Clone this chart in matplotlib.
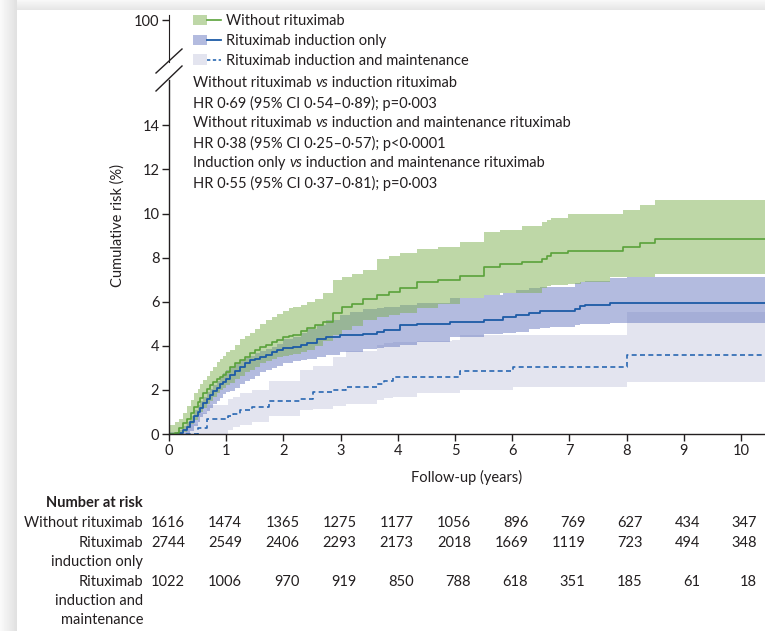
import numpy as np
import matplotlib.pyplot as plt
import matplotlib.transforms as mtransforms
from matplotlib.patches import Patch
from matplotlib.lines import Line2D
from matplotlib.legend_handler import HandlerTuple

plt.rcParams['font.family'] = ['Lato', 'DejaVu Sans']
plt.rcParams['font.size'] = 10.5
INK = '#231f20'

# --- cumulative risk curves (step functions) ---
t_without = [0, 0.1, 0.17, 0.25, 0.32, 0.38, 0.43, 0.5, 0.55, 0.6,
             0.66, 0.72, 0.77, 0.84, 0.9, 0.95, 1.0, 1.07, 1.15, 1.24,
             1.32, 1.42, 1.5, 1.59, 1.7, 1.8, 1.88, 2.0, 2.1, 2.17,
             2.3, 2.41, 2.55, 2.7, 2.87, 3.02, 3.2, 3.4, 3.63, 3.85,
             4.04, 4.33, 4.7, 5.09, 5.5, 5.79, 6.17, 6.52, 6.6, 6.68,
             6.98, 7.2, 7.71, 7.94, 8.23, 8.5, 10.45]
est_without = [0, 0.05, 0.25, 0.48, 0.7, 0.95, 1.24, 1.45, 1.65, 1.85,
               2.05, 2.2, 2.37, 2.5, 2.6, 2.68, 2.83, 3.05, 3.2, 3.36,
               3.5, 3.66, 3.8, 3.96, 4.05, 4.15, 4.26, 4.4, 4.45, 4.5,
               4.65, 4.79, 4.95, 5.1, 5.47, 5.77, 5.9, 6.1, 6.3, 6.45,
               6.61, 6.91, 7.0, 7.18, 7.59, 7.71, 7.82, 7.94, 8.07, 8.19,
               8.31, 8.31, 8.31, 8.46, 8.65, 8.83, 8.83]
hi_without = [0.4, 0.55, 0.7, 0.95, 1.25, 1.55, 1.85, 2.05, 2.25, 2.45,
              2.65, 2.85, 3.05, 3.25, 3.4, 3.55, 3.7, 3.81, 4.05, 4.3,
              4.45, 4.56, 4.75, 5.0, 5.15, 5.3, 5.45, 5.6, 5.7, 5.75,
              5.85, 5.98, 6.1, 6.4, 6.98, 7.1, 7.25, 7.44, 7.92, 8.05,
              8.2, 8.37, 8.5, 8.72, 9.17, 9.27, 9.42, 9.6, 9.72, 9.8,
              9.97, 9.97, 10.0, 10.17, 10.4, 10.62, 10.62]
lo_without = [0, 0, 0, 0.1, 0.25, 0.45, 0.65, 0.85, 1.0, 1.2,
              1.35, 1.5, 1.7, 1.85, 2.0, 2.1, 2.2, 2.3, 2.5, 2.65,
              2.8, 2.9, 3.05, 3.2, 3.3, 3.4, 3.5, 3.55, 3.6, 3.65,
              3.72, 3.81, 4.0, 4.2, 4.5, 4.7, 4.9, 5.17, 5.3, 5.4,
              5.47, 5.7, 5.9, 6.15, 6.3, 6.38, 6.38, 6.6, 6.7, 6.75,
              6.8, 6.91, 7.1, 7.1, 7.14, 7.26, 7.26]

t_induction = [0, 0.16, 0.25, 0.31, 0.37, 0.43, 0.5, 0.55, 0.6, 0.66,
               0.72, 0.77, 0.84, 0.9, 0.95, 1.0, 1.07, 1.15, 1.24, 1.32,
               1.42, 1.5, 1.59, 1.7, 1.8, 1.88, 2.0, 2.17, 2.3, 2.41,
               2.58, 2.75, 2.99, 3.16, 3.4, 3.63, 3.75, 4.04, 4.33, 4.91,
               5.5, 5.84, 6.07, 6.3, 6.49, 6.66, 7.1, 7.19, 7.28, 7.71,
               8.0, 10.45]
est_induction = [0, 0.05, 0.2, 0.33, 0.55, 0.8, 1.0, 1.2, 1.4, 1.6,
                 1.75, 1.93, 2.1, 2.25, 2.37, 2.5, 2.68, 2.85, 3.05, 3.2,
                 3.36, 3.42, 3.5, 3.6, 3.72, 3.81, 3.9, 3.96, 4.05, 4.14,
                 4.3, 4.41, 4.49, 4.5, 4.55, 4.64, 4.7, 4.94, 5.0, 5.08,
                 5.17, 5.29, 5.39, 5.5, 5.58, 5.6, 5.66, 5.81, 5.85, 5.95,
                 5.95, 5.95]
hi_induction = [0.1, 0.2, 0.35, 0.55, 0.8, 1.1, 1.3, 1.5, 1.7, 1.9,
                2.05, 2.2, 2.4, 2.6, 2.75, 2.9, 3.05, 3.2, 3.35, 3.43,
                3.55, 3.66, 3.75, 3.85, 3.96, 4.1, 4.3, 4.41, 4.6, 4.75,
                4.95, 5.17, 5.4, 5.55, 5.65, 5.7, 5.77, 5.85, 5.93, 6.15,
                6.3, 6.4, 6.53, 6.6, 6.65, 6.68, 6.85, 6.91, 6.95, 7.06,
                7.1, 7.1]
lo_induction = [0, 0, 0, 0, 0.15, 0.35, 0.55, 0.75, 0.9, 1.05,
                1.2, 1.36, 1.5, 1.65, 1.8, 1.9, 1.97, 2.1, 2.25, 2.4,
                2.5, 2.65, 2.8, 2.9, 3.0, 3.1, 3.2, 3.3, 3.35, 3.4,
                3.5, 3.6, 3.7, 3.73, 3.85, 3.9, 3.96, 4.05, 4.19, 4.41,
                4.53, 4.6, 4.64, 4.74, 4.8, 4.87, 4.95, 4.99, 4.99, 5.02,
                5.05, 5.05]

t_maint = [0, 0.3, 0.51, 0.66, 1.03, 1.12, 1.24, 1.45, 1.74, 2.29,
           2.52, 2.87, 3.1, 3.63, 3.75, 3.92, 4.33, 4.95, 5.09, 6.02,
           8.0, 10.45]
est_maint = [0, 0, 0.26, 0.67, 0.8, 0.9, 1.07, 1.23, 1.5, 1.6,
             1.9, 2.0, 2.12, 2.27, 2.42, 2.6, 2.6, 2.6, 2.87, 3.05,
             3.58, 3.58]
hi_maint = [0, 0.45, 0.95, 1.3, 1.6, 1.7, 1.85, 2.0, 2.4, 2.9,
            3.1, 3.5, 3.75, 4.05, 4.11, 4.15, 4.23, 4.26, 4.49, 4.49,
            5.55, 5.55]
lo_maint = [0, 0, 0, 0, 0.2, 0.3, 0.4, 0.55, 0.8, 1.1,
            1.15, 1.25, 1.35, 1.55, 1.62, 1.7, 1.84, 1.84, 2.0, 2.12,
            2.35, 2.35]

# number at risk table
risk_years = list(range(0, 11))
risk_without = [1616, 1474, 1365, 1275, 1177, 1056, 896, 769, 627, 434, 347]
risk_induction = [2744, 2549, 2406, 2293, 2173, 2018, 1669, 1119, 723, 494, 348]
risk_maint = [1022, 1006, 970, 919, 850, 788, 618, 351, 185, 61, 18]

labels = ['Without rituximab', 'Rituximab induction only', 'Rituximab induction and maintenance']
hr_lines = [
    [('Without rituximab ', 'normal'), ('vs', 'italic'), (' induction rituximab', 'normal')],
    [('HR 0·69 (95% CI 0·54–0·89); p=0·003', 'normal')],
    [('Without rituximab ', 'normal'), ('vs', 'italic'),
     (' induction and maintenance rituximab', 'normal')],
    [('HR 0·38 (95% CI 0·25–0·57); p<0·0001', 'normal')],
    [('Induction only ', 'normal'), ('vs', 'italic'), (' induction and maintenance rituximab', 'normal')],
    [('HR 0·55 (95% CI 0·37–0·81); p=0·003', 'normal')],
]

green_fill, green_line = '#7fb151', '#5aa23a'
blue_fill, blue_line = '#6979c1', '#1d5ba6'
lav_fill, lav_line = '#c9cbe0', '#2a68b2'

W, H = 765, 631
fig = plt.figure(figsize=(W / 100, H / 100), dpi=100)


def box(l, t, r, b):
    return [l / W, 1 - b / H, (r - l) / W, (b - t) / H]


# screenshot shadow at top and left edge
for rect, grad in ((box(0, 0, W, 10), np.linspace(0.97, 0.90, 10)[:, None]),
                   (box(0, 0, 17, H), np.linspace(0.98, 0.88, 17)[None, :])):
    bax = fig.add_axes(rect)
    bax.imshow(grad, cmap='gray', vmin=0, vmax=1, aspect='auto')
    bax.axis('off')

ax = fig.add_axes(box(169, 80, 765, 434))
axt = fig.add_axes(box(169, 15, 765, 62))
xmax = (765 - 169) / 57.2

ax.fill_between(t_maint, lo_maint, hi_maint, step='post', color=lav_fill, alpha=0.5, lw=0)
ax.fill_between(t_induction, lo_induction, hi_induction, step='post', color=blue_fill, alpha=0.5, lw=0)
ax.fill_between(t_without, lo_without, hi_without, step='post', color=green_fill, alpha=0.5, lw=0)
ax.step(t_maint, est_maint, where='post', color=lav_line, lw=1.2, ls=(0, (3, 2)))
ax.step(t_induction, est_induction, where='post', color=blue_line, lw=1.3)
ax.step(t_without, est_without, where='post', color=green_line, lw=1.2)

ax.set_xlim(0, xmax)
ax.set_ylim(0, (434 - 80) / 22.05)
ax.set_xticks(range(0, 11))
ax.set_yticks(range(0, 15, 2))
for s in ('top', 'right'):
    ax.spines[s].set_visible(False)
for s in ('left', 'bottom'):
    ax.spines[s].set_color(INK)
    ax.spines[s].set_linewidth(1.0)
ax.tick_params(colors=INK, length=5, width=1.0, pad=2, labelsize=10.5)
ax.set_xlabel('Follow-up (years)', color=INK, labelpad=9)
ax.set_ylabel('Cumulative risk (%)', color=INK)
ax.yaxis.set_label_coords(-0.074, 0.59)

# upper part of the broken axis, only the 100 tick
axt.set_xlim(0, xmax)
axt.set_ylim(100 - 42 / 22.05, 100 + 5 / 22.05)
axt.set_yticks([100])
axt.set_xticks([])
axt.patch.set_alpha(0)
for s in ('top', 'right', 'bottom'):
    axt.spines[s].set_visible(False)
axt.spines['left'].set_color(INK)
axt.tick_params(colors=INK, length=5, width=1.0, pad=2, labelsize=10.5)

for y0, y1 in ((73, 49), (91, 66)):
    fig.add_artist(Line2D([156 / W, 182 / W], [1 - y0 / H, 1 - y1 / H],
                          transform=fig.transFigure, color=INK, lw=1.0))

handles = [
    (Patch(fc=green_fill, alpha=0.5, lw=0), Line2D([], [], color=green_line, lw=1.2)),
    (Patch(fc=blue_fill, alpha=0.5, lw=0), Line2D([], [], color=blue_line, lw=1.3)),
    (Patch(fc=lav_fill, alpha=0.5, lw=0), Line2D([], [], color=lav_line, lw=1.2, ls=(0, (2, 1.5)))),
]
fig.legend(handles, labels, handler_map={tuple: HandlerTuple(ndivide=None)},
           loc='upper left', bbox_to_anchor=(193 / W, 1 - 14 / H), frameon=False,
           handlelength=1.9, handleheight=0.7, handletextpad=0.35, labelspacing=0.4,
           borderpad=0, borderaxespad=0, labelcolor=INK, fontsize=10.5)

# hazard ratio text, italic "vs" pieces chained one after another
for i, parts in enumerate(hr_lines):
    y = 1 - (83 + i * 20) / H
    t = fig.text(193 / W, y, parts[0][0], style=parts[0][1], color=INK, va='center')
    for s, st in parts[1:]:
        t = ax.annotate(s, xy=(1, 0), xycoords=t, va='bottom', ha='left', style=st, color=INK,
                        annotation_clip=False)

# number at risk
tr = mtransforms.blended_transform_factory(ax.transData, fig.transFigure)
fig.text(143 / W, 1 - 503 / H, 'Number at risk', ha='right', va='center', weight='bold', color=INK)
row_labels = [(523, 'Without rituximab'), (543, 'Rituximab'), (562, 'induction only'),
              (582, 'Rituximab'), (601, 'induction and'), (620, 'maintenance')]
for yp, txt in row_labels:
    fig.text(143 / W, 1 - yp / H, txt, ha='right', va='center', color=INK)
for yp, row in ((523, risk_without), (543, risk_induction), (582, risk_maint)):
    for yr, n in zip(risk_years, row):
        ax.text(yr + 0.28, 1 - yp / H, str(n), transform=tr, ha='right', va='center', color=INK)

fig.savefig('out.png', dpi=100)
